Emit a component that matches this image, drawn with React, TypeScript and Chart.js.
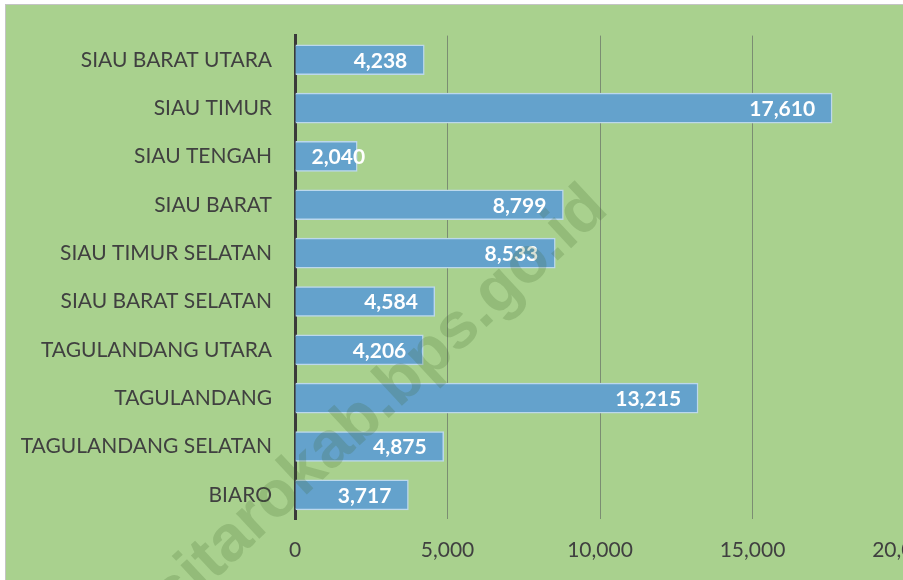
import React, { useEffect, useRef } from "react";
import { Chart, registerables } from "chart.js";

Chart.register(...registerables);

const categories = [
  "SIAU BARAT UTARA",
  "SIAU TIMUR",
  "SIAU TENGAH",
  "SIAU BARAT",
  "SIAU TIMUR SELATAN",
  "SIAU BARAT SELATAN",
  "TAGULANDANG UTARA",
  "TAGULANDANG",
  "TAGULANDANG SELATAN",
  "BIARO",
];
const values = [4238, 17610, 2040, 8799, 8533, 4584, 4206, 13215, 4875, 3717];
const xTicks = [0, 5000, 10000, 15000, 20000];
const watermark = "sitarokab.bps.go.id";

const fmt = (v: number) => v.toLocaleString("en-US");

const labelPlugin = {
  id: "barLabels",
  afterDatasetsDraw(chart: any) {
    const ctx = chart.ctx;
    const meta = chart.getDatasetMeta(0);
    ctx.save();
    ctx.font = "bold 21px Lato";
    ctx.fillStyle = "#ffffff";
    ctx.textBaseline = "middle";
    ctx.textAlign = "left";
    meta.data.forEach((el: any, i: number) => {
      const txt = fmt(values[i]);
      const w = ctx.measureText(txt).width;
      let end = el.x - 17;
      if (end - w < el.base + 16) end = el.base + 16 + w;
      ctx.fillText(txt, end - w, el.y + 1);
    });
    ctx.restore();
  },
};

const watermarkPlugin = {
  id: "watermark",
  afterDraw(chart: any) {
    const ctx = chart.ctx;
    ctx.save();
    ctx.translate(392, 415);
    ctx.rotate((-43 * Math.PI) / 180);
    ctx.font = 'bold 65px "Liberation Sans"';
    ctx.fillStyle = "rgba(60,100,40,0.2)";
    ctx.textAlign = "center";
    ctx.textBaseline = "alphabetic";
    ctx.fillText(watermark, 0, 0);
    ctx.restore();
  },
};

export default function App() {
  const ref = useRef<HTMLCanvasElement>(null);
  useEffect(() => {
    document.body.style.margin = "0";
    const chart = new Chart(ref.current as HTMLCanvasElement, {
      type: "bar",
      data: {
        labels: categories,
        datasets: [
          {
            data: values,
            backgroundColor: "#64a2cc",
            borderColor: "#bcd8ec",
            borderWidth: 1.5,
            barThickness: 30,
          },
        ],
      },
      options: {
        indexAxis: "y",
        animation: false,
        responsive: false,
        maintainAspectRatio: false,
        layout: { padding: { left: 0, top: 35, right: 55, bottom: 0 } },
        plugins: {
          legend: { display: false },
          tooltip: { enabled: false },
        },
        scales: {
          x: {
            min: 0,
            max: 20000,
            afterFit: (s: any) => {
              s.height = 61;
            },
            afterBuildTicks: (s: any) => {
              s.ticks = xTicks.map((v) => ({ value: v }));
            },
            grid: {
              drawTicks: false,
              color: (c: any) => (c.tick && c.tick.value === 0 ? "rgba(0,0,0,0)" : "#7b8d72"),
              lineWidth: 1,
            },
            border: { display: false },
            ticks: {
              padding: 19,
              color: "#404040",
              font: { family: "Lato", size: 21 },
              callback: (v: any) => fmt(Number(v)),
            },
          },
          y: {
            afterFit: (s: any) => {
              s.width = 295;
            },
            grid: { display: false, drawTicks: false },
            border: { display: true, color: "#3a3a3a", width: 3 },
            ticks: {
              padding: 23,
              color: "#404040",
              font: { family: "Lato", size: 21 },
            },
          },
        },
      },
      plugins: [labelPlugin, watermarkPlugin],
    });
    return () => chart.destroy();
  }, []);

  return (
    <div
      style={{
        position: "fixed",
        left: 0,
        top: 0,
        width: 903,
        height: 580,
        overflow: "hidden",
        background: "#ffffff",
      }}
    >
      <div
        style={{
          position: "absolute",
          left: 5,
          top: 4,
          width: 1000,
          height: 1000,
          background: "#a9d18e",
          border: "1px solid #c4c4c4",
        }}
      />
      <canvas
        ref={ref}
        width={960}
        height={580}
        style={{ position: "absolute", left: 0, top: 0, width: 960, height: 580 }}
      />
    </div>
  );
}
